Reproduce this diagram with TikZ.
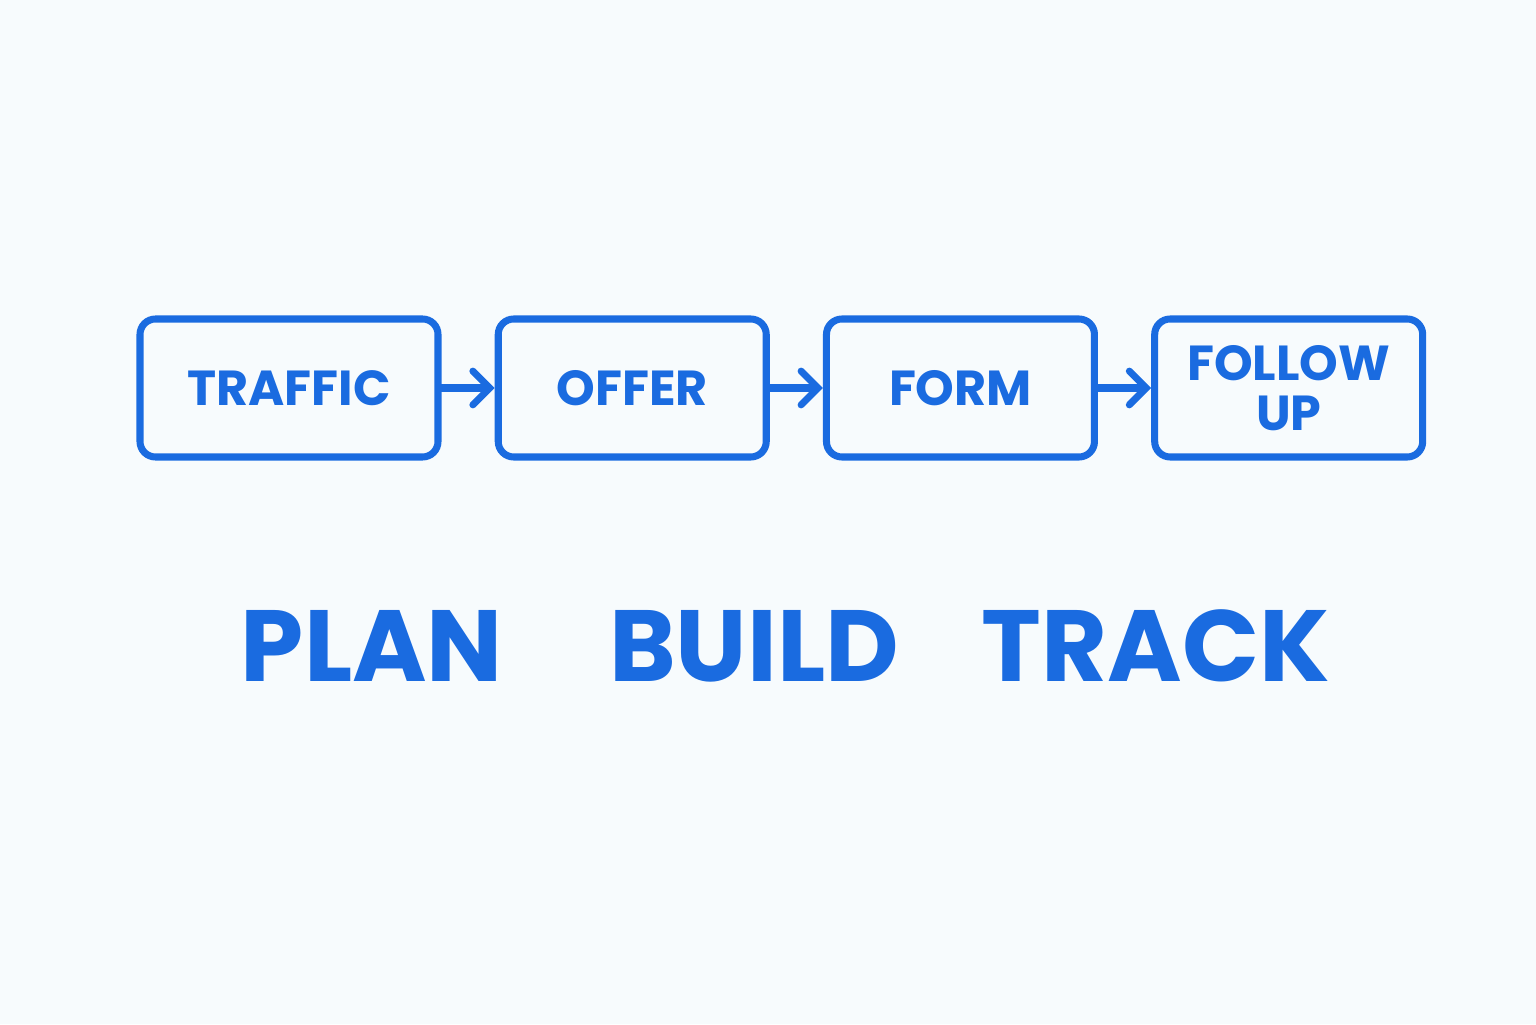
\documentclass[tikz,border=0pt]{standalone}
\usepackage{fontspec}
\setmainfont{Poppins}
\usetikzlibrary{positioning,arrows.meta}
\definecolor{flowblue}{HTML}{1A6BE0}
\definecolor{paper}{HTML}{F7FBFD}

\begin{document}
\begin{tikzpicture}[
    box/.style={rectangle, draw=flowblue, line width=5pt, rounded corners=11pt, minimum height=3.45cm, text=flowblue, font=\fontsize{35}{38}\selectfont\bfseries, align=center, inner sep=0pt},
    arrow/.style={-{Straight Barb[length=12pt, width=24pt, line cap=round]}, line width=5pt, draw=flowblue, line cap=round},
    word/.style={text=flowblue, font=\fontsize{72}{76}\selectfont\bfseries, anchor=base}
]
\fill[paper] (0,0) rectangle (38.4,25.6);
\useasboundingbox (0,0) rectangle (38.4,25.6);

% Flow boxes
\node[box, minimum width=7.45cm] (traffic) at (7.225,15.9) {TRAFFIC};
\node[box, minimum width=6.7cm, right=1.33cm of traffic] (offer) {OFFER};
\node[box, minimum width=6.7cm, right=1.33cm of offer] (form) {FORM};
\node[box, minimum width=6.7cm, right=1.33cm of form] (follow) {FOLLOW\\[-2pt]UP};

% Connections
\draw[arrow] (traffic) -- (offer);
\draw[arrow] (offer) -- (form);
\draw[arrow] (form) -- (follow);

% Stages
\node[word] (plan) at (9.3,8.55) {PLAN};
\node[word] (build) at (18.85,8.55) {BUILD};
\node[word] (track) at (28.9,8.55) {TRACK};

\end{tikzpicture}
\end{document}
